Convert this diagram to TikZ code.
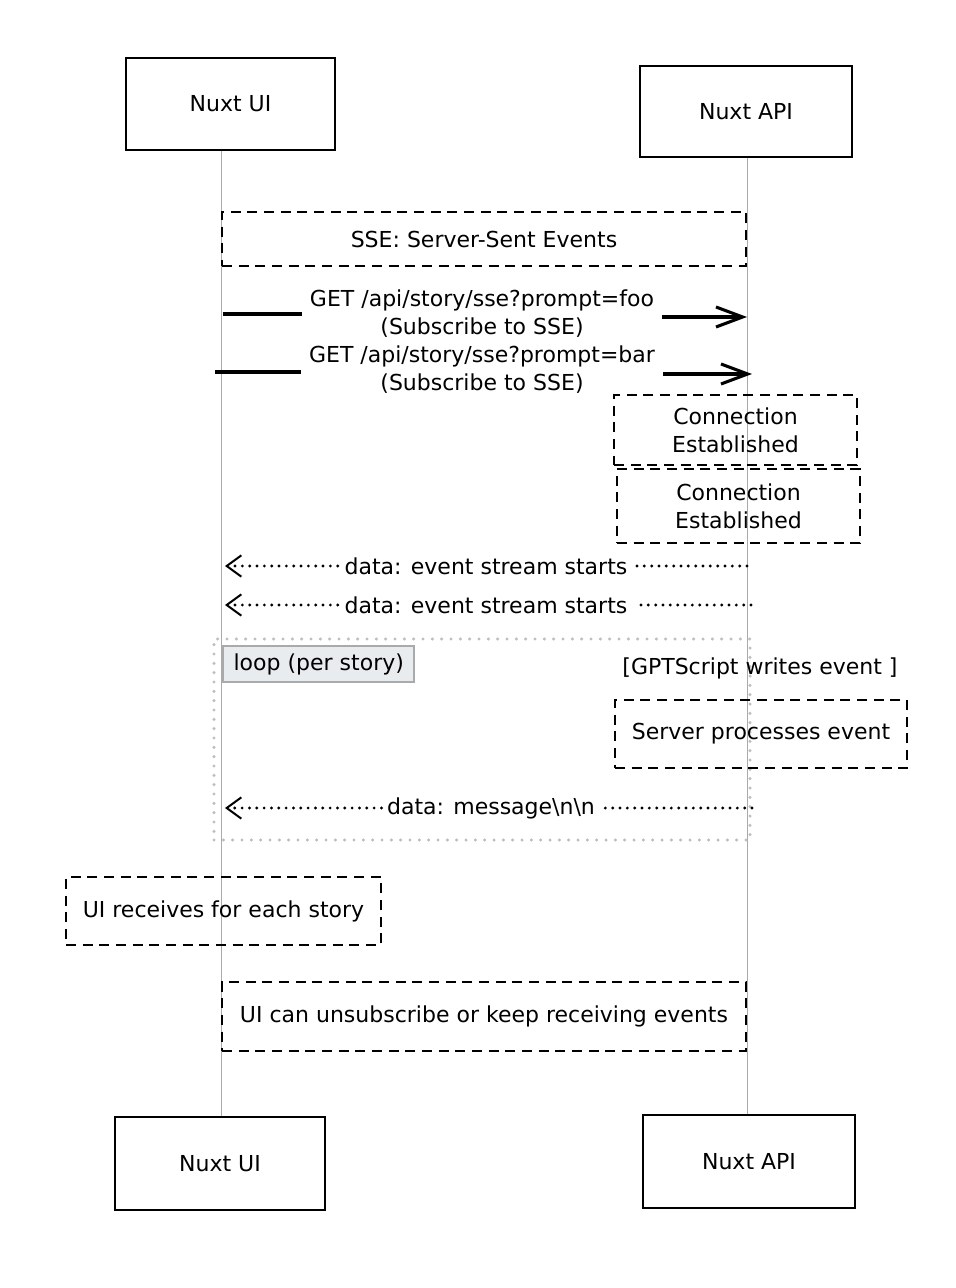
\documentclass[tikz,border=0pt]{standalone}
\usepackage{fontspec}
\setmainfont{DejaVu Sans}
\usepackage{tikz}
\usetikzlibrary{
  positioning,
  arrows.meta,
  calc
}
\definecolor{lifeGray}{HTML}{AAAAAA}
\definecolor{frameGray}{HTML}{BFBFBF}
\definecolor{labelFill}{HTML}{E9ECEF}
\tikzstyle{actor}=[draw, line width=1.5pt, inner sep=0pt]
\tikzstyle{note}=[draw, line width=2.2pt, dash pattern=on 7.5pt off 5pt, inner sep=0pt, align=center]
\tikzstyle{lifeline}=[draw=lifeGray, line width=0.75pt]
\tikzstyle{call}=[line width=2.3pt]
\tikzstyle{reply}=[line width=2.4pt, dash pattern=on 0pt off 5.5pt, line cap=round]
\tikzstyle{msgtext}=[align=center, inner xsep=6pt, inner ysep=0pt]
\tikzstyle{callhead}=[-{Straight Barb[length=20pt, width=15pt]}]
\tikzstyle{replyhead}=[-{Straight Barb[length=11pt, width=16pt, line width=1.5pt]}]

\begin{document}
\begin{tikzpicture}[x=0.75pt, y=-0.75pt, font=\fontsize{16.5}{21}\selectfont]
      \useasboundingbox (0,0) rectangle (956,1288);
      \def\px{0.75pt}

      % ライフラインの位置
      \coordinate (ui) at (221,0);
      \coordinate (api) at (747,0);

      % 参加者
      \node[actor, minimum width=209*\px, minimum height=92*\px] (uiTop) at (230.5,104) {Nuxt UI};
      \node[actor, minimum width=212*\px, minimum height=91*\px] (apiTop) at (746,111.5) {Nuxt API};
      \node[actor, minimum width=210*\px, minimum height=93*\px] (uiBot) at (220,1163.5) {Nuxt UI};
      \node[actor, minimum width=212*\px, minimum height=93*\px] (apiBot) at (749,1161.5) {Nuxt API};

      % ライフライン
      \draw[lifeline] (uiTop.south -| ui) -- (uiBot.north -| ui);
      \draw[lifeline] (apiTop.south -| api) -- (apiBot.north -| api);

      % SSEの注記
      \node[note, minimum width=524*\px, minimum height=54*\px] (sse) at (484,239) {SSE: Server-Sent Events};

      % 購読リクエスト
      \node[msgtext] (get1) at (482,314) {GET /api/story/sse?prompt=foo\\(Subscribe to SSE)};
      \node[msgtext] (get2) at (482,370) {GET /api/story/sse?prompt=bar\\(Subscribe to SSE)};
      \coordinate (g1s) at (223,314);
      \coordinate (g1e) at (747,317);
      \coordinate (g2s) at (215,372);
      \coordinate (g2e) at (752,374);
      \draw[call] (g1s) -- (get1.west |- g1s);
      \draw[call, callhead] (get1.east |- g1e) -- (g1e);
      \draw[call] (g2s) -- (get2.west |- g2s);
      \draw[call, callhead] (get2.east |- g2e) -- (g2e);

      % 接続確立
      \node[note, minimum width=243*\px, minimum height=70*\px] (conn1) at (735.5,430) {Connection\\Established};
      \node[note, minimum width=243*\px, minimum height=74*\px] (conn2) at (738.5,506) {Connection\\Established};

      % イベントストリーム開始
      \node[msgtext, inner xsep=5pt] (ret1) at (486,566) {data: event stream starts};
      \node[msgtext, inner xsep=5pt] (ret2) at (486,605) {data: event stream starts};
      \coordinate (r1s) at (747,566);
      \coordinate (r1e) at (225,566);
      \coordinate (r2s) at (751,605);
      \coordinate (r2e) at (225,605);
      \draw[reply] (r1s) -- (ret1.east);
      \draw[reply, replyhead] (ret1.west) -- (r1e);
      \draw[reply] (r2s) -- (ret2.east);
      \draw[reply, replyhead] (ret2.west) -- (r2e);

      % ループ枠
      \node[draw=frameGray, line width=2.6pt, dash pattern=on 0pt off 7pt, line cap=round,
            minimum width=536*\px, minimum height=201*\px] (loop) at (482,739.5) {};
      \node[draw=lifeGray, fill=labelFill, line width=1.5pt, inner sep=0pt,
            minimum width=191*\px, minimum height=36*\px,
            below right=6pt and 7.5pt of loop.north west] (loopLbl) {loop (per story)};
      \node (cond) at (760,668) {[GPTScript writes event ]};
      \node[note, minimum width=292*\px, minimum height=68*\px] (proc) at (761,734) {Server processes event};

      % メッセージ
      \node[msgtext, inner xsep=4pt] (msg) at (491,808) {data: message\textbackslash n\textbackslash n};
      \coordinate (ms) at (752,808);
      \coordinate (me) at (225,808);
      \draw[reply] (ms) -- (msg.east);
      \draw[reply, replyhead] (msg.west) -- (me);

      % 最後の注記
      \node[note, minimum width=315*\px, minimum height=68*\px] (recv) at (223.5,911) {UI receives for each story};
      \node[note, minimum width=524*\px, minimum height=69*\px] (unsub) at (484,1016.5) {UI can unsubscribe or keep receiving events};
    \end{tikzpicture}
\end{document}
